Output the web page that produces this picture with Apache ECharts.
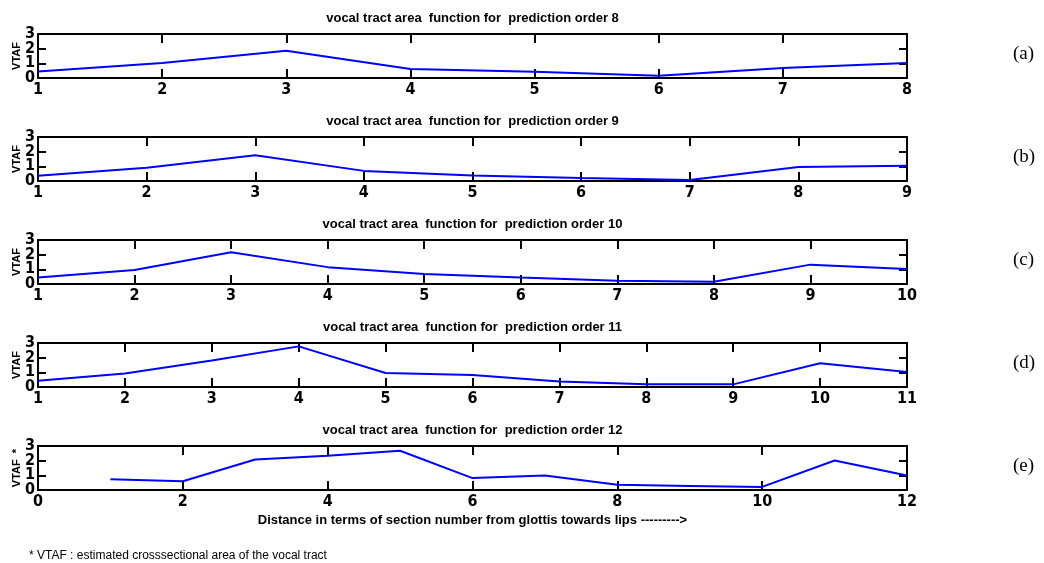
<!DOCTYPE html>
<html>
<head>
<meta charset="utf-8">
<script src="https://cdn.jsdelivr.net/npm/echarts@6/dist/echarts.min.js"></script>
<style>
html,body{margin:0;padding:0;background:#fff}
#main{width:1044px;height:563px}
</style>
</head>
<body>
<div id="main"></div>
<script>
// VTAF per section number, one list per prediction order
var order8  = [0.45, 1.02, 1.86, 0.61, 0.43, 0.16, 0.68, 1.02];
var order9  = [0.35, 0.90, 1.75, 0.69, 0.37, 0.21, 0.07, 0.95, 1.04];
var order10 = [0.44, 0.95, 2.17, 1.15, 0.69, 0.44, 0.23, 0.16, 1.32, 1.02];
var order11 = [0.43, 0.92, 1.81, 2.77, 0.96, 0.82, 0.37, 0.18, 0.18, 1.62, 1.03];
var order12 = [0.74, 0.60, 2.08, 2.33, 2.68, 0.81, 0.99, 0.35, 0.28, 0.21, 2.01, 0.99];

var orders   = [8, 9, 10, 11, 12];
var series   = [order8, order9, order10, order11, order12];
var xMin     = [1, 1, 1, 1, 0];
var xMax     = [8, 9, 10, 11, 12];
var xStep    = [1, 1, 1, 1, 2];
var yTicks   = [0, 1, 2, 3];
var panelTags = ['(a)', '(b)', '(c)', '(d)', '(e)'];
var yNames   = ['VTAF', 'VTAF', 'VTAF', 'VTAF', 'VTAF  *'];

var chart = echarts.init(document.getElementById('main'));

var tops = [34, 137, 240, 343, 446];
var plotH = 44, plotL = 38, plotR = 137;
var narrow = "'Liberation Sans Narrow','DejaVu Sans Condensed',sans-serif";
var sans = "'Liberation Sans',Arial,sans-serif";
var yMin = yTicks[0], yMax = yTicks[yTicks.length - 1];

var grid = [], xAxis = [], yAxis = [], title = [], lines = [], graphic = [];

orders.forEach(function (ord, i) {
    grid.push({left: plotL, right: plotR, top: tops[i], height: plotH, outerBoundsMode: 'none'});

    var line = {show: true, onZero: false, lineStyle: {color: '#000', width: 2}};
    var xt = {show: true, inside: true, length: 9, lineStyle: {color: '#000', width: 2}};
    var yt = {show: true, inside: true, length: 8, lineStyle: {color: '#000', width: 2}};
    var lbl = {color: '#000', fontFamily: narrow, fontWeight: 'bold', fontSize: 16};

    var xb = {
        gridIndex: i, type: 'value', position: 'bottom',
        min: xMin[i], max: xMax[i], interval: xStep[i],
        axisLine: line, axisTick: xt, splitLine: {show: false},
        axisLabel: Object.assign({margin: 4, showMinLabel: true, showMaxLabel: true}, lbl)
    };
    if (i === 4) {
        xb.name = 'Distance in terms of section number from glottis towards lips --------->';
        xb.nameLocation = 'middle';
        xb.nameGap = 24;
        xb.nameMoveOverlap = false;
        xb.nameTextStyle = {color: '#000', fontFamily: sans, fontWeight: 'bold', fontSize: 13};
    }
    xAxis.push(xb);
    xAxis.push({
        gridIndex: i, type: 'value', position: 'top',
        min: xMin[i], max: xMax[i], interval: xStep[i],
        axisLine: line, axisTick: xt, splitLine: {show: false},
        axisLabel: {show: false}
    });

    // left axis: line, ticks and the inner labels 1, 2
    yAxis.push({
        gridIndex: i, type: 'value', position: 'left',
        min: yMin, max: yMax, interval: 1,
        axisLine: line, axisTick: yt, splitLine: {show: false},
        axisLabel: Object.assign({margin: 3, formatter: function (v) {
            return (v === yMin || v === yMax) ? '' : String(v);
        }}, lbl),
        name: yNames[i], nameLocation: 'middle', nameGap: 16, nameRotate: 90,
        nameMoveOverlap: false,
        nameTextStyle: {color: '#000', fontFamily: sans, fontWeight: 'bold', fontSize: 11}
    });
    // right box side
    yAxis.push({
        gridIndex: i, type: 'value', position: 'right',
        min: yMin, max: yMax, interval: 1,
        axisLine: line, axisTick: yt, splitLine: {show: false},
        axisLabel: {show: false}
    });
    // second left axis carrying only the end labels 0 and 3 (they overlap 1 and 2)
    yAxis.push({
        gridIndex: i, type: 'value', position: 'left',
        min: yMin, max: yMax, interval: 1,
        axisLine: {show: false}, axisTick: {show: false}, splitLine: {show: false},
        axisLabel: Object.assign({margin: 3, showMinLabel: true, showMaxLabel: true,
            formatter: function (v) {
                return (v === yMin || v === yMax) ? String(v) : '';
            }}, lbl)
    });

    title.push({
        text: 'vocal tract area  function for  prediction order ' + ord,
        left: plotL + (1044 - plotL - plotR) / 2, textAlign: 'center',
        top: tops[i] - 22, padding: 0,
        textStyle: {color: '#000', fontFamily: sans, fontWeight: 'bold', fontSize: 13}
    });

    lines.push({
        type: 'line',
        xAxisIndex: 2 * i, yAxisIndex: 3 * i,
        data: series[i].map(function (v, k) { return [k + 1, v]; }),
        showSymbol: false, symbol: 'none',
        lineStyle: {color: '#0000ff', width: 2},
        silent: true
    });

    graphic.push({
        type: 'text', left: 1013, top: tops[i] + plotH / 2 - 11,
        style: {text: panelTags[i], fill: '#000', font: '19px "Liberation Serif", serif'}
    });
});

graphic.push({
    type: 'text', left: 29, top: 550,
    style: {text: '* VTAF : estimated crosssectional area of the vocal tract', fill: '#000',
        font: '12px "Liberation Sans", sans-serif'}
});

chart.setOption({
    backgroundColor: '#fff',
    animation: false,
    title: title,
    grid: grid,
    xAxis: xAxis,
    yAxis: yAxis,
    series: lines,
    graphic: graphic
});
</script>
</body>
</html>
